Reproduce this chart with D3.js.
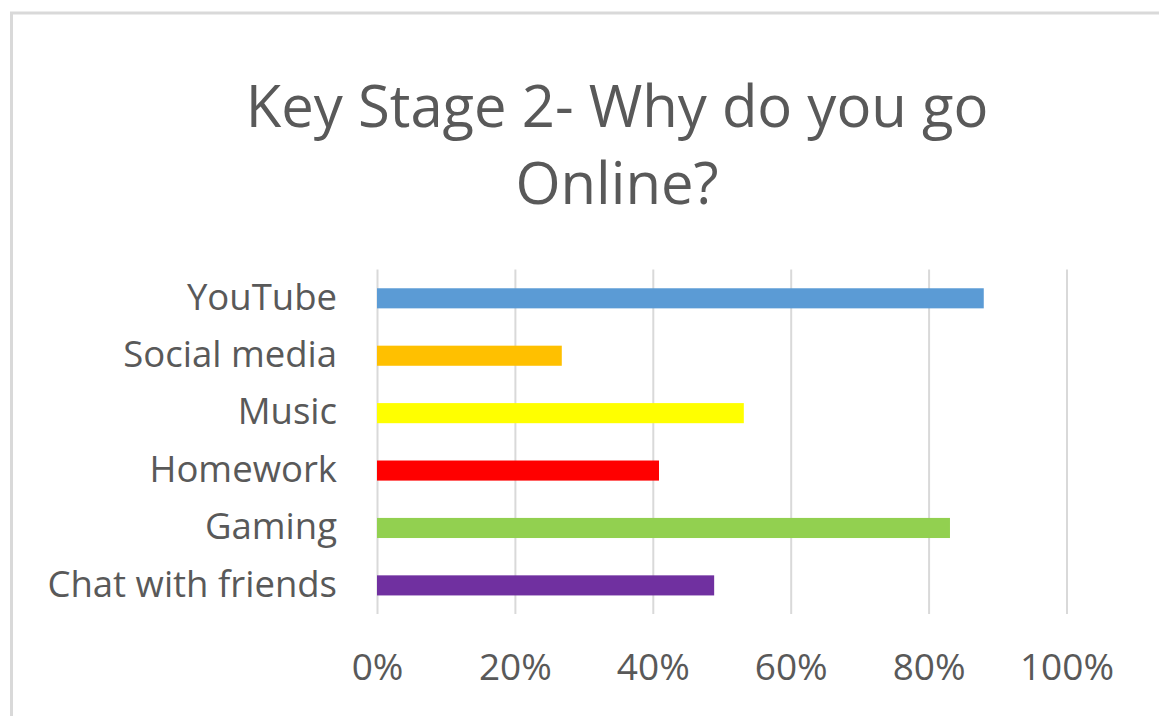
<!DOCTYPE html>
<html>
<head>
<meta charset="utf-8">
<script src="https://cdn.jsdelivr.net/npm/d3@7"></script>
<style>
  body { margin: 0; background: #fff; }
  text { font-family: "Open Sans", "Noto Sans", sans-serif; fill: #595959; }
</style>
</head>
<body>
<div id="chart"></div>
<script>
// data
const categories = ["YouTube", "Social media", "Music", "Homework", "Gaming", "Chat with friends"]
const values = [0.88, 0.268, 0.532, 0.409, 0.831, 0.489]
const barColors = ["#5b9bd5", "#ffc000", "#ffff00", "#ff0000", "#92d050", "#7030a0"]
const tickValues = [0, 0.2, 0.4, 0.6, 0.8, 1]
const titleLines = ["Key Stage 2- Why do you go", "Online?"]

const width = 1159, height = 716
const plot = {left: 377, right: 1066.5, top: 269.6, bottom: 614.1}

const svg = d3.select("#chart")
  .append("svg")
    .attr("width", width)
    .attr("height", height)

// chart frame (runs off the right and bottom of the picture)
svg.append("rect")
  .attr("x", 11.5)
  .attr("y", 13)
  .attr("width", 1300)
  .attr("height", 900)
  .style("fill", "none")
  .style("stroke", "#d9d9d9")
  .style("stroke-width", 3)

// title
svg.append("g")
  .selectAll("text")
  .data(titleLines)
  .join("text")
    .attr("x", 617)
    .attr("y", (d, i) => 127 + i * 76.6)
    .attr("text-anchor", "middle")
    .style("font-size", "58px")
    .text(d => d)

const x = d3.scaleLinear()
  .domain([0, 1])
  .range([plot.left, plot.right])

const y = d3.scaleBand()
  .domain(categories)
  .range([plot.top, plot.bottom])
  .paddingInner(0.65)
  .paddingOuter(0.325)

// vertical gridlines
svg.append("g")
  .attr("transform", `translate(0, ${plot.bottom})`)
  .call(d3.axisBottom(x).tickValues(tickValues).tickSize(-(plot.bottom - plot.top)).tickFormat(""))
  .call(g => g.select(".domain").remove())
  .call(g => g.selectAll(".tick line").style("stroke", "#d9d9d9").style("stroke-width", 2))

// x tick labels
svg.append("g")
  .attr("transform", `translate(0, ${plot.bottom})`)
  .call(d3.axisBottom(x).tickValues(tickValues).tickSize(0).tickFormat(d3.format(".0%")))
  .call(g => g.select(".domain").remove())
  .call(g => g.selectAll(".tick text")
    .attr("y", 66)
    .attr("dy", 0)
    .style("font-size", "37px")
    .style("font-family", null)
    .style("fill", "#595959"))

// bars
svg.append("g")
  .selectAll("rect")
  .data(categories)
  .join("rect")
    .attr("x", x(0))
    .attr("y", d => y(d))
    .attr("width", (d, i) => x(values[i]) - x(0))
    .attr("height", y.bandwidth())
    .style("fill", (d, i) => barColors[i])

// category labels
svg.append("g")
  .attr("transform", `translate(${plot.left}, 0)`)
  .call(d3.axisLeft(y).tickSize(0).tickPadding(40))
  .call(g => g.select(".domain").remove())
  .call(g => g.selectAll(".tick text")
    .attr("dy", "0.31em")
    .style("font-size", "36.5px")
    .style("font-family", null)
    .style("fill", "#595959"))
</script>
</body>
</html>
